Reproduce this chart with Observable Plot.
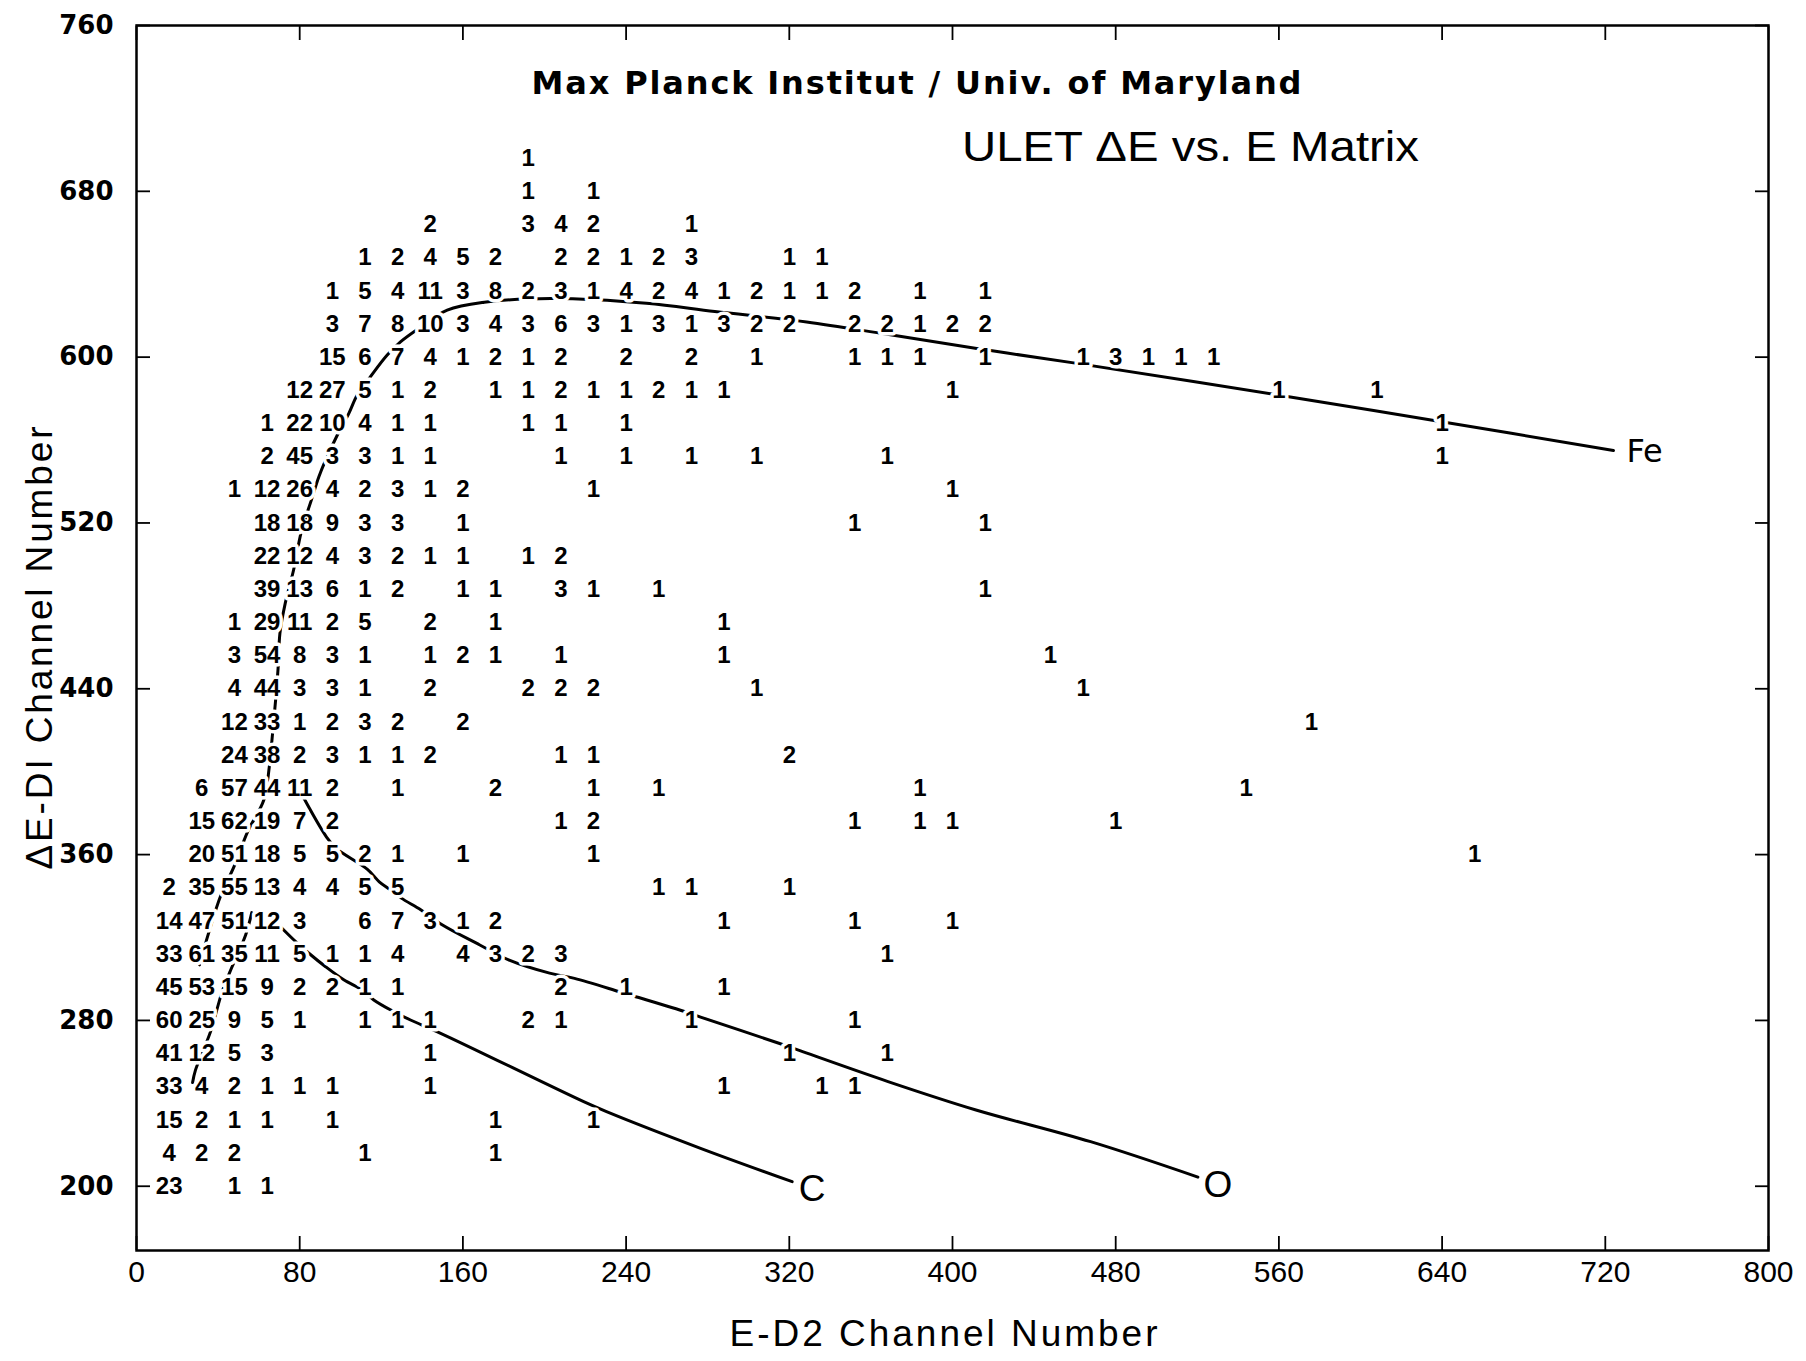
<!DOCTYPE html>
<html>
<head>
<meta charset="utf-8">
<script src="https://cdn.jsdelivr.net/npm/d3@7"></script>
<script src="https://cdn.jsdelivr.net/npm/@observablehq/plot@0.6"></script>
<style>
html, body { margin: 0; padding: 0; background: #fff; }
#chart { width: 1806px; height: 1361px; }
</style>
</head>
<body>
<div id="chart"></div>
<script>
// ---- axis ticks & texts ----
const xTicks = [0, 80, 160, 240, 320, 400, 480, 560, 640, 720, 800];
const yTicks = [200, 280, 360, 440, 520, 600, 680, 760];
const title1 = "Max Planck Institut / Univ. of Maryland";
const title2 = "ULET \u0394E vs. E Matrix";
const xLabel = "E-D2 Channel Number";
const yLabel = "\u0394E-DI Channel Number";

// ---- matrix rows: [E-D2 channel, count] for each ΔE row ----
const r696 = [[192,1]];
const r680 = [[192,1],[224,1]];
const r664 = [[144,2],[192,3],[208,4],[224,2],[272,1]];
const r648 = [[112,1],[128,2],[144,4],[160,5],[176,2],[208,2],[224,2],[240,1],[256,2],[272,3],[320,1],[336,1]];
const r632 = [[96,1],[112,5],[128,4],[144,11],[160,3],[176,8],[192,2],[208,3],[224,1],[240,4],[256,2],[272,4],[288,1],[304,2],[320,1],[336,1],[352,2],[384,1],[416,1]];
const r616 = [[96,3],[112,7],[128,8],[144,10],[160,3],[176,4],[192,3],[208,6],[224,3],[240,1],[256,3],[272,1],[288,3],[304,2],[320,2],[352,2],[368,2],[384,1],[400,2],[416,2]];
const r600 = [[96,15],[112,6],[128,7],[144,4],[160,1],[176,2],[192,1],[208,2],[240,2],[272,2],[304,1],[352,1],[368,1],[384,1],[416,1],[464,1],[480,3],[496,1],[512,1],[528,1]];
const r584 = [[80,12],[96,27],[112,5],[128,1],[144,2],[176,1],[192,1],[208,2],[224,1],[240,1],[256,2],[272,1],[288,1],[400,1],[560,1],[608,1]];
const r568 = [[64,1],[80,22],[96,10],[112,4],[128,1],[144,1],[192,1],[208,1],[240,1],[640,1]];
const r552 = [[64,2],[80,45],[96,3],[112,3],[128,1],[144,1],[208,1],[240,1],[272,1],[304,1],[368,1],[640,1]];
const r536 = [[48,1],[64,12],[80,26],[96,4],[112,2],[128,3],[144,1],[160,2],[224,1],[400,1]];
const r520 = [[64,18],[80,18],[96,9],[112,3],[128,3],[160,1],[352,1],[416,1]];
const r504 = [[64,22],[80,12],[96,4],[112,3],[128,2],[144,1],[160,1],[192,1],[208,2]];
const r488 = [[64,39],[80,13],[96,6],[112,1],[128,2],[160,1],[176,1],[208,3],[224,1],[256,1],[416,1]];
const r472 = [[48,1],[64,29],[80,11],[96,2],[112,5],[144,2],[176,1],[288,1]];
const r456 = [[48,3],[64,54],[80,8],[96,3],[112,1],[144,1],[160,2],[176,1],[208,1],[288,1],[448,1]];
const r440 = [[48,4],[64,44],[80,3],[96,3],[112,1],[144,2],[192,2],[208,2],[224,2],[304,1],[464,1]];
const r424 = [[48,12],[64,33],[80,1],[96,2],[112,3],[128,2],[160,2],[576,1]];
const r408 = [[48,24],[64,38],[80,2],[96,3],[112,1],[128,1],[144,2],[208,1],[224,1],[320,2]];
const r392 = [[32,6],[48,57],[64,44],[80,11],[96,2],[128,1],[176,2],[224,1],[256,1],[384,1],[544,1]];
const r376 = [[32,15],[48,62],[64,19],[80,7],[96,2],[208,1],[224,2],[352,1],[384,1],[400,1],[480,1]];
const r360 = [[32,20],[48,51],[64,18],[80,5],[96,5],[112,2],[128,1],[160,1],[224,1],[656,1]];
const r344 = [[16,2],[32,35],[48,55],[64,13],[80,4],[96,4],[112,5],[128,5],[256,1],[272,1],[320,1]];
const r328 = [[16,14],[32,47],[48,51],[64,12],[80,3],[112,6],[128,7],[144,3],[160,1],[176,2],[288,1],[352,1],[400,1]];
const r312 = [[16,33],[32,61],[48,35],[64,11],[80,5],[96,1],[112,1],[128,4],[160,4],[176,3],[192,2],[208,3],[368,1]];
const r296 = [[16,45],[32,53],[48,15],[64,9],[80,2],[96,2],[112,1],[128,1],[208,2],[240,1],[288,1]];
const r280 = [[16,60],[32,25],[48,9],[64,5],[80,1],[112,1],[128,1],[144,1],[192,2],[208,1],[272,1],[352,1]];
const r264 = [[16,41],[32,12],[48,5],[64,3],[144,1],[320,1],[368,1]];
const r248 = [[16,33],[32,4],[48,2],[64,1],[80,1],[96,1],[144,1],[288,1],[336,1],[352,1]];
const r232 = [[16,15],[32,2],[48,1],[64,1],[96,1],[176,1],[224,1]];
const r216 = [[16,4],[32,2],[48,2],[112,1],[176,1]];
const r200 = [[16,23],[48,1],[64,1]];

const rowDE = [696,680,664,648,632,616,600,584,568,552,536,520,504,488,472,456,440,424,408,392,376,360,344,328,312,296,280,264,248,232,216,200];
const rowCells = [r696,r680,r664,r648,r632,r616,r600,r584,r568,r552,r536,r520,r504,r488,r472,r456,r440,r424,r408,r392,r376,r360,r344,r328,r312,r296,r280,r264,r248,r232,r216,r200];

// ---- hand-drawn track curves [E, ΔE] ----
const feCurve = [[30.9,306.8],[35.3,322],[41.4,340.5],[47.8,354.2],[54.5,371.1],[62.4,386.3],[65.1,402.4],[66.7,418.5],[68.2,434.6],[69.4,449.8],[70.3,466.7],[72.9,481.2],[77,497.3],[80.8,515.8],[85.7,531],[89.4,542.3],[92.7,550.3],[98.7,562.9],[104.1,572.9],[108.2,581.7],[114.7,590.6],[122.9,601],[129.4,607.4],[138.4,613.9],[152.3,622.7],[170.5,626.5],[203,628.3],[250,626],[283.5,622],[328.5,617],[368,611],[413,604],[461,597],[558,582],[639,569],[724,555]];
const ridgeCurve = [[56.5,332],[53.5,321.2],[46.9,306],[42,293.9],[36.3,274.6],[28.9,256],[27.5,250]];
const oCurve = [[81.6,388],[93,368.7],[97.9,363],[113.2,352.9],[119,346.9],[124.5,343],[129.8,339],[139.5,333.3],[150,326],[168.3,316.4],[182.4,309.2],[202.5,302.8],[214.7,300.3],[236.6,293.9],[243.6,291.8],[269,284.2],[276.5,281.6],[314.9,269],[325.2,265.4],[368.4,250.5],[411.5,236.8],[467.7,221.5],[520.3,204.4]];
const cCurve = [[70.6,325.2],[77.2,318.8],[84.5,312.4],[92.7,305.9],[101.6,299.6],[110.6,294.7],[116.3,289.9],[126.2,284.2],[134.3,280.2],[149.1,273.8],[219.2,240.8],[230.4,236],[276.5,218.3],[321.4,202.2]];
const curveNames = ["Fe", "O", "C"];

// ---- build tables ----
const cells = rowDE.flatMap((de, i) => rowCells[i].map(([e, n]) => ({e, de, n: String(n)})));

const dejavu = "DejaVu Sans";
const lib = "Liberation Sans";

const lineOpts = {x: d => d[0], y: d => d[1], stroke: "black", strokeWidth: 3, curve: "catmull-rom"};
const numOpts = {x: "e", y: "de", text: "n", fontSize: 24, fontWeight: "bold", fontFamily: lib};

const chart = Plot.plot({
  width: 1806,
  height: 1361,
  marginLeft: 136,
  marginRight: 38,
  marginTop: 25,
  marginBottom: 111,
  x: {domain: [0, 800], axis: null},
  y: {domain: [169, 760], axis: null},
  style: {background: "white", color: "black", fontFamily: dejavu, overflow: "visible"},
  marks: [
    // curves
    Plot.line(feCurve, lineOpts),
    Plot.line(ridgeCurve, lineOpts),
    Plot.line(oCurve, lineOpts),
    Plot.line(cCurve, lineOpts),
    // halo behind numbers (breaks the curves like the original)
    Plot.text(cells, {...numOpts, fill: "white", stroke: "white", strokeWidth: 7, paintOrder: "stroke"}),
    Plot.text(cells, {...numOpts, fill: "black"}),
    // curve labels at curve ends
    Plot.text([feCurve[feCurve.length - 1]], {x: d => d[0], y: d => d[1], text: () => curveNames[0], textAnchor: "start", dx: 13, dy: 1, fontSize: 32, fontFamily: dejavu}),
    Plot.text([oCurve[oCurve.length - 1]], {x: d => d[0], y: d => d[1], text: () => curveNames[1], dx: 20, dy: 8, fontSize: 37, fontFamily: lib}),
    Plot.text([cCurve[cCurve.length - 1]], {x: d => d[0], y: d => d[1], text: () => curveNames[2], dx: 20, dy: 7, fontSize: 37, fontFamily: lib}),
    // frame & inward ticks
    Plot.frame({strokeWidth: 2.5}),
    Plot.axisX(xTicks, {anchor: "bottom", tickSize: 14, dy: -14, fill: "none", label: null, strokeWidth: 1.8}),
    Plot.axisX(xTicks, {anchor: "top", tickSize: 14, dy: 14, fill: "none", label: null, strokeWidth: 1.8}),
    Plot.axisY(yTicks, {anchor: "left", tickSize: 14, dx: 14, fill: "none", label: null, strokeWidth: 1.8}),
    Plot.axisY(yTicks, {anchor: "right", tickSize: 14, dx: -14, fill: "none", label: null, strokeWidth: 1.8}),
    // tick labels
    Plot.axisX(xTicks, {anchor: "bottom", tickSize: 0, tickPadding: 10, label: null, fontSize: 30, fontFamily: lib}),
    Plot.axisY(yTicks, {anchor: "left", tickSize: 0, tickPadding: 23, label: null, fontSize: 26, fontWeight: "bold", fontFamily: dejavu}),
    // axis titles
    Plot.text([xLabel], {frameAnchor: "bottom", text: d => d, textAnchor: "middle", lineAnchor: "middle", dx: -9, dy: 84, fontSize: 37, fontFamily: lib}),
    Plot.text([yLabel], {frameAnchor: "left", text: d => d, textAnchor: "middle", lineAnchor: "middle", rotate: -90, dx: -96, dy: 10, fontSize: 37, fontFamily: lib}),
    // titles inside frame
    Plot.text([title1], {frameAnchor: "top-left", text: d => d, textAnchor: "middle", lineAnchor: "middle", dx: 780, dy: 58, fontSize: 32, fontWeight: "bold", fontFamily: dejavu}),
    Plot.text([title2], {frameAnchor: "top-left", text: d => d, textAnchor: "middle", lineAnchor: "middle", dx: 1054, dy: 122, fontSize: 42, fontFamily: lib})
  ]
});

document.getElementById("chart").appendChild(chart);

// fit the lettering-style texts to the widths seen in the original
const fits = new Map([[title1, [770, "spacing"]], [title2, [457, "spacingAndGlyphs"]], [xLabel, [428, "spacing"]], [yLabel, [443, "spacing"]]]);
d3.select(chart).selectAll("text").each(function() {
  const f = fits.get(this.textContent);
  if (f) d3.select(this).attr("textLength", f[0]).attr("lengthAdjust", f[1]);
});
</script>
</body>
</html>
